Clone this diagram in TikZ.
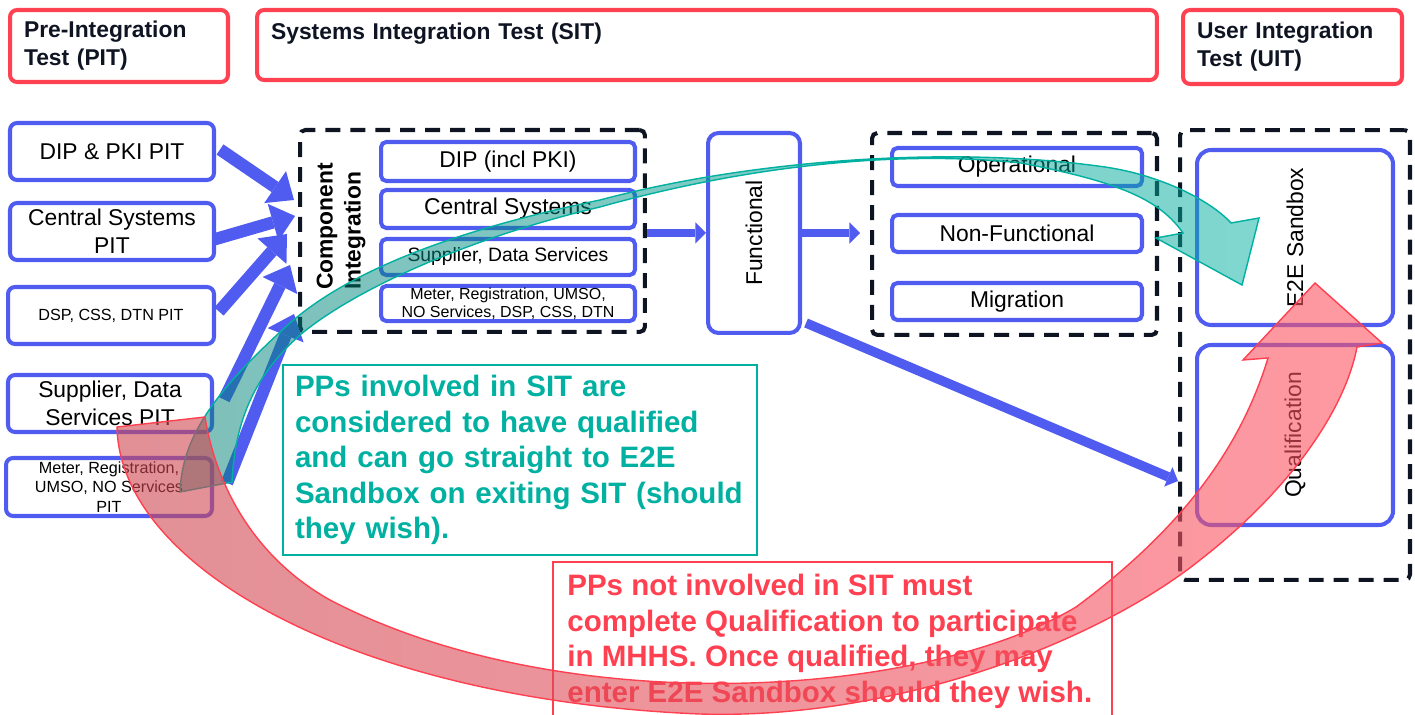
\documentclass[tikz,border=0pt]{standalone}
\usepackage{fontspec}
\usepackage{graphicx}
\setmainfont{Liberation Sans}
\usetikzlibrary{arrows.meta,calc}

\definecolor{pitblue}{RGB}{80,92,240}
\definecolor{hdrred}{RGB}{255,66,82}
\definecolor{grpnavy}{RGB}{14,20,34}
\definecolor{noteteal}{RGB}{0,176,160}
\definecolor{tealdark}{RGB}{0,128,118}
\definecolor{notered}{RGB}{255,64,80}
\definecolor{reddark}{RGB}{205,70,80}
\definecolor{redlight}{RGB}{255,85,100}

\newcommand\bigtxt{\fontsize{13}{15.9}\selectfont}
\newcommand\midtxt{\fontsize{11}{13}\selectfont}
\newcommand\smalltxt{\fontsize{9.2}{11}\selectfont}
\newcommand\tinytxt{\fontsize{9.1}{10.2}\selectfont}
\newcommand\notetxt{\fontsize{16.8}{20.2}\selectfont\bfseries}

\tikzset{
  hdr/.style={draw=hdrred,line width=2.3pt,rounded corners=4pt,font=\bigtxt\bfseries,text=grpnavy,align=left,inner xsep=0.28cm},
  pitbox/.style={draw=pitblue,line width=2.3pt,rounded corners=4pt,align=center,font=\bigtxt,minimum width=4.08cm,minimum height=1.14cm,inner sep=1pt},
  cibox/.style={draw=pitblue,line width=2.3pt,rounded corners=3pt,align=center,minimum width=5.08cm,inner sep=1pt},
  grp/.style={draw=grpnavy,line width=2.3pt,dash pattern=on 8.5pt off 5.7pt,rounded corners=3pt,minimum width=#1},
  blockarrow/.style={draw=pitblue,line width=7pt,-{Triangle[length=13pt,width=22pt,line width=0pt]}},
  thinarrow/.style={draw=pitblue,line width=4.6pt,-{Triangle[length=6pt,width=12pt,line width=0pt]}}
}

\begin{document}
\begin{tikzpicture}[x=0.02cm,y=-0.02cm]
\useasboundingbox (0,0) rectangle (1415,715);

% stage headers
\node[hdr,text width=3.8cm,minimum height=1.44cm] (pithdr) at (119,46) {Pre-Integration\\Test (PIT)};
\node[hdr,text width=17.44cm,minimum height=1.4cm] (sithdr) at (707,45) {Systems Integration Test (SIT)\\\mbox{}};
\node[hdr,text width=3.82cm,minimum height=1.48cm] (uithdr) at (1292.5,47) {User Integration\\Test (UIT)};

% pre-integration boxes
\node[pitbox] (dippit) at (112,151.5) {DIP \& PKI PIT};
\node[pitbox] (cspit) at (112,231.5) {Central Systems\\PIT};
\node[pitbox,minimum width=4.12cm,font=\smalltxt] (dsppit) at (111,315.5) {DSP, CSS, DTN PIT};
\node[pitbox] (suppit) at (110,403.5) {Supplier, Data\\Services PIT};
\node[pitbox,minimum width=4.12cm,minimum height=1.16cm,font=\smalltxt] (metpit) at (109,487) {Meter, Registration,\\UMSO, NO Services\\PIT};

% component integration
\node[grp=6.9cm,minimum height=4.04cm] (cigrp) at (472.5,231) {};
\node[rotate=90,align=left,font=\bigtxt\bfseries] (cilbl) at (341,226.5) {Component\\Integration};
\node[cibox,minimum height=0.78cm,font=\bigtxt] (cidip) at (508,161.5) {DIP (incl PKI)};
\node[cibox,minimum height=0.76cm,font=\bigtxt] (cics) at (508,209) {Central Systems};
\node[cibox,minimum height=0.72cm,font=\midtxt] (cisup) at (508,257) {Supplier, Data Services};
\node[cibox,minimum height=0.7cm,font=\tinytxt] (cimet) at (508,303.5) {Meter, Registration, UMSO,\\NO Services, DSP, CSS, DTN};

\node[pitbox,minimum width=1.84cm,minimum height=4cm,rounded corners=6pt] (func) at (754,233) {\rotatebox{90}{Functional}};

\node[grp=5.7cm,minimum height=4.04cm] (nfgrp) at (1014.5,234) {};
\node[cibox,minimum width=5cm,minimum height=0.76cm,font=\bigtxt] (ops) at (1017,167) {Operational};
\node[cibox,minimum width=5cm,minimum height=0.74cm,font=\bigtxt] (nonf) at (1017,233.5) {Non-Functional};
\node[cibox,minimum width=5cm,minimum height=0.74cm,font=\bigtxt] (mig) at (1017,301.5) {Migration};

% user integration
\node[grp=4.6cm,minimum height=9cm] (uitgrp) at (1295,355) {};
\node[pitbox,minimum width=3.92cm,minimum height=3.5cm,rounded corners=8pt] (sandbox) at (1295,237.5) {\rotatebox{90}{E2E Sandbox}};
\node[pitbox,minimum width=3.92cm,minimum height=3.6cm,rounded corners=8pt] (qual) at (1295,435) {\rotatebox{90}{Qualification}};

% flows
\coordinate (in1) at (294,200);
\coordinate (in2) at (295,216);
\coordinate (in3) at (287,234);
\coordinate (in4) at (290,265);
\coordinate (in5) at (294,314);
\coordinate (qin) at (1178,481);
\draw[blockarrow] ($(dippit.east)+(4,-2)$) -- (in1);
\draw[blockarrow] ($(cspit.east)+(-2,8)$) -- (in2);
\draw[blockarrow] ($(dsppit.east)+(3,-4)$) -- (in3);
\draw[blockarrow] ($(suppit.east)+(10,-4)$) -- (in4);
\draw[blockarrow] ($(metpit.east)+(13,-4)$) -- (in5);
\draw[thinarrow] (cigrp.east |- func.west) -- (func.west);
\draw[thinarrow,shorten >=0.2cm] (func.east) -- (nfgrp.west |- func.east);
\draw[thinarrow,line width=5.4pt] ($(func.south east)+(4,-12)$) -- (qin);

% straight to sandbox
\shadedraw[draw=noteteal,line width=0.8pt,left color=tealdark,right color=noteteal,fill opacity=0.5]
  (180,492) .. controls (182,440) and (210,395) .. (290,323)
  .. controls (360,262) and (480,225) .. (600,200)
  .. controls (750,160) and (950,145) .. (1105,167)
  .. controls (1160,175) and (1210,200) .. (1231,223)
  -- (1259,218) -- (1242,285) -- (1156,238) -- (1183,233)
  .. controls (1160,200) and (1120,182) .. (1021,163)
  .. controls (900,150) and (750,165) .. (600,207)
  .. controls (480,235) and (360,285) .. (300,335)
  .. controls (255,375) and (235,420) .. (232,482) -- cycle;

\node[draw=noteteal,line width=1.2pt,text=noteteal,font=\notetxt,text width=9cm,inner xsep=0.24cm,minimum height=3.8cm,align=left] (sitnote) at (520,460) {PPs involved in SIT are\\considered to have qualified\\and can go straight to E2E\\Sandbox on exiting SIT (should\\they wish).};

\node[text=notered,font=\notetxt,inner xsep=0.28cm,inner ysep=0.24cm,anchor=north west,align=left] (qualnote) at (553,562) {PPs not involved in SIT must\\complete Qualification to participate\\in MHHS. Once qualified, they may\\enter E2E Sandbox should they wish.};
\draw[notered,line width=0.8pt] ($(qualnote.north west)+(0,170)$) -- (qualnote.north west) -- ++(559,0) -- ++(0,170);

% via qualification
\shadedraw[draw=notered,line width=0.8pt,left color=reddark,right color=redlight,fill opacity=0.6]
  (117,427) .. controls (120,570) and (360,700) .. (700,714)
  .. controls (900,720) and (1100,640) .. (1200,560)
  .. controls (1290,490) and (1345,410) .. (1357,347)
  -- (1382,343) -- (1315,283) -- (1243,360) -- (1268,358)
  .. controls (1240,450) and (1180,530) .. (1076,607)
  .. controls (920,700) and (560,720) .. (330,600)
  .. controls (250,555) and (215,480) .. (205,417) -- cycle;
\end{tikzpicture}
\end{document}
